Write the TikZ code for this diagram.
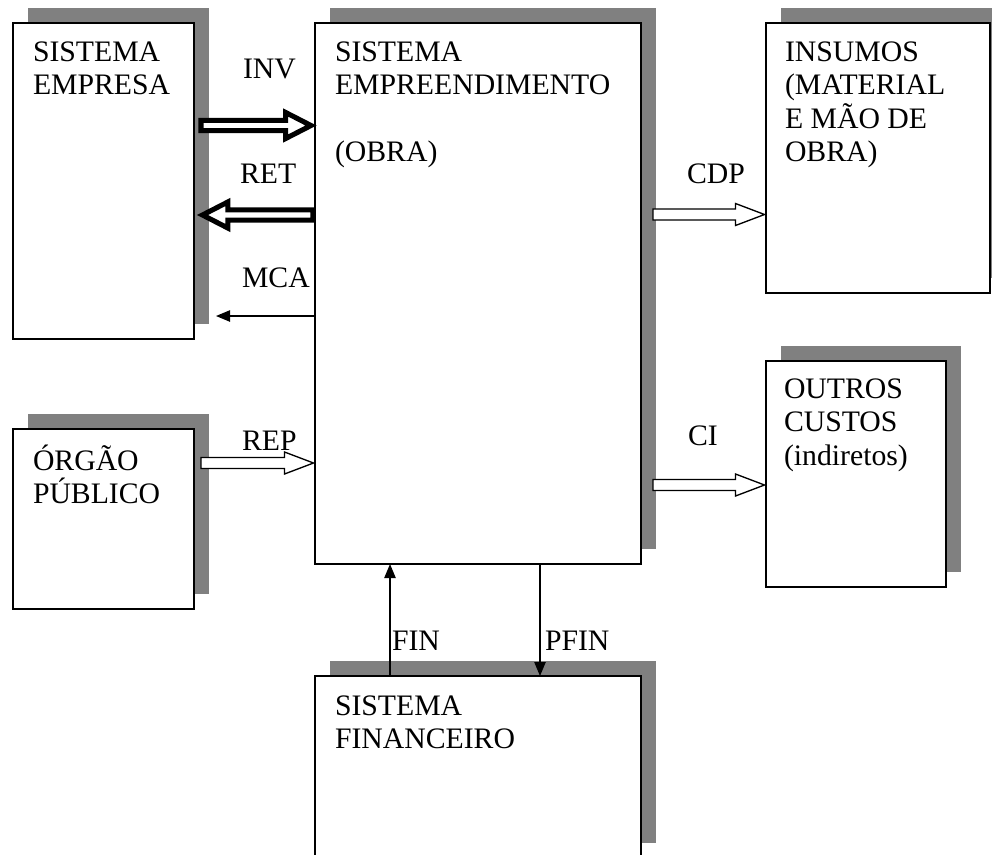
\documentclass[tikz,border=0pt]{standalone}
\usepackage{fontspec}
\setmainfont{Liberation Serif}
\usetikzlibrary{calc,shadows,arrows.meta}
\definecolor{shade}{HTML}{808080}
\tikzset{
  box/.style={draw, line width=1pt, fill=white, anchor=north west, inner sep=0pt, outer sep=0pt,
    general shadow={fill=shade, draw=none, shadow xshift=11.25pt, shadow yshift=11.25pt}},
  txt/.style={anchor=base west, inner sep=0pt, outer sep=0pt, font=\fontsize{22.3}{25.2}\selectfont},
  thinarrow/.style={line width=1pt, -{Triangle[length=10.5pt,width=8.5pt]}},
  blk/.style n args={4}{line width=#1, miter limit=10, fill=white, draw=black,
    to path={let \p1=(\tikztostart), \p2=(\tikztotarget), \n1={ifthenelse(\x2>\x1,1,-1)} in
      ({\x1},{\y1-#2}) -- ({\x2-\n1*#4},{\y1-#2}) -- ({\x2-\n1*#4},{\y1-#3}) -- ({\x2},{\y1})
      -- ({\x2-\n1*#4},{\y1+#3}) -- ({\x2-\n1*#4},{\y1+#2}) -- ({\x1},{\y1+#2}) -- cycle}},
  thickblock/.style={blk={3.8pt}{3.8pt}{9.75pt}{19pt}},
  thinblock/.style={blk={1pt}{4.1pt}{8.25pt}{21.75pt}},
}
\begin{document}
\begin{tikzpicture}[x=0.75pt, y=-0.75pt]
\useasboundingbox (0,0) rectangle (992,854);
\clip (0,0) rectangle (992,854);
\fill[white] (0,0) rectangle (992,854);

% boxes
\node[box, minimum width=135.75pt, minimum height=237pt]   (b1) at (13,23) {};
\node[box, minimum width=244.5pt,  minimum height=405.75pt] (b2) at (315,23) {};
\node[box, minimum width=168pt,    minimum height=202.5pt] (b3) at (766,23) {};
\node[box, minimum width=135.75pt, minimum height=135pt]   (b4) at (13,429) {};
\node[box, minimum width=135pt,    minimum height=169.5pt] (b5) at (766,361) {};
\node[box, minimum width=244.5pt,  minimum height=136.5pt] (b6) at (315,676) {};

% box texts
\node[txt] (t1) at ($(b1.north west)+(20,38)$) {\parbox[t]{200pt}{SISTEMA\\EMPRESA}};
\node[txt] (t2) at ($(b2.north west)+(20,38)$) {\parbox[t]{240pt}{SISTEMA\\EMPREENDIMENTO\\[\baselineskip](OBRA)}};
\node[txt] (t3) at ($(b3.north west)+(19,38)$) {\parbox[t]{200pt}{INSUMOS\\(MATERIAL\\E MÃO DE\\OBRA)}};
\node[txt] (t4) at ($(b4.north west)+(20,41)$) {\parbox[t]{200pt}{ÓRGÃO\\PÚBLICO}};
\node[txt] (t5) at ($(b5.north west)+(18,37)$) {\parbox[t]{200pt}{OUTROS\\CUSTOS\\(indiretos)}};
\node[txt] (t6) at ($(b6.north west)+(20,39)$) {\parbox[t]{240pt}{SISTEMA\\FINANCEIRO}};

% connector labels
\node[txt] (lINV)  at (243,78)  {INV};
\node[txt] (lRET)  at (240,183) {RET};
\node[txt] (lMCA)  at (242,287) {MCA};
\node[txt] (lCDP)  at (687,183) {CDP};
\node[txt] (lREP)  at (242,450) {REP};
\node[txt] (lCI)   at (688,445) {CI};
\node[txt] (lFIN)  at (392,650) {FIN};
\node[txt] (lPFIN) at (545,650) {PFIN};

% connector end points
\coordinate (invT) at ($(b1.north east)+(7,102.5)$);
\coordinate (invP) at ($(b2.north west)+(-4,102.5)$);
\coordinate (retT) at ($(b2.north west)+(-2,192)$);
\coordinate (retP) at ($(b1.north east)+(8.5,192)$);
\coordinate (mcaT) at ($(b2.north west)+(0,293)$);
\coordinate (mcaP) at ($(b1.north east)+(22,293)$);
\coordinate (cdpT) at ($(b2.north east)+(12,191.5)$);
\coordinate (cdpP) at ($(b3.north west)+(-1.5,191.5)$);
\coordinate (repT) at ($(b4.north east)+(7,34)$);
\coordinate (repP) at ($(b2.north west)+(-1.5,440)$);
\coordinate (ciT)  at ($(b2.north east)+(12,462)$);
\coordinate (ciP)  at ($(b5.north west)+(-1.5,124)$);

% connectors
\draw[thickblock] (invT) to (invP);
\draw[thickblock] (retT) to (retP);
\draw[thinarrow] (mcaT) -- (mcaP);
\draw[thinblock] (cdpT) to (cdpP);
\draw[thinblock] (repT) to (repP);
\draw[thinblock] (ciT) to (ciP);
\draw[thinarrow] ($(b6.north west)+(75,0)$) -- ($(b2.south west)+(75,0)$);
\draw[thinarrow] ($(b2.south west)+(225,0)$) -- ($(b6.north west)+(225,0)$);
\end{tikzpicture}
\end{document}
